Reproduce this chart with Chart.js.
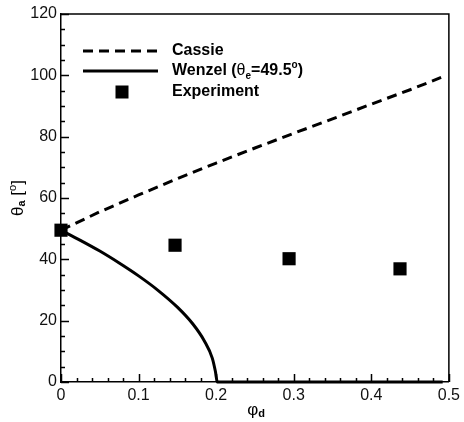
<!DOCTYPE html>
<html>
<head>
<meta charset="utf-8">
<script src="https://cdn.jsdelivr.net/npm/chart.js@4"></script>
<style>
  html, body { margin: 0; padding: 0; background: #fff; }
  #wrap { width: 464px; height: 422px; }
</style>
</head>
<body>
<div id="wrap"><canvas id="contactChart" width="464" height="422"></canvas></div>
<script>
// values
const cassiePhi = [0, 0.05, 0.1, 0.15, 0.2, 0.25, 0.3, 0.35, 0.4, 0.45, 0.49];
const cassieTheta = [49.5, 55.5, 61.0, 66.3, 71.4, 76.3, 81.1, 85.8, 90.6, 95.3, 99.3];

const wenzelPhi = [0, 0.025, 0.05, 0.075, 0.1, 0.125, 0.15, 0.17, 0.185, 0.195, 0.199, 0.2015, 0.3, 0.4, 0.492];
const wenzelTheta = [49.5, 46.2, 42.7, 38.8, 34.6, 29.9, 24.4, 18.9, 13.3, 7.8, 3.5, 0, 0, 0, 0];

const expPhi = [0, 0.147, 0.294, 0.437];
const expTheta = [49.5, 44.6, 40.2, 36.9];

const xTicks = [0, 0.1, 0.2, 0.3, 0.4, 0.5];
const yTicks = [0, 20, 40, 60, 80, 100, 120];

function pts(xs, ys) {
    return xs.map((x, i) => ({ x: x, y: ys[i] }));
}

const FONT = "'Liberation Sans', Arial, sans-serif";

// draws a run of text pieces (normal / sub / sup) centred on 0,0
function drawRich(ctx, parts) {
    let total = 0;
    parts.forEach(p => { ctx.font = p.font; p.w = ctx.measureText(p.t).width; total += p.w; });
    let x = -total / 2;
    parts.forEach(p => {
        ctx.font = p.font;
        ctx.fillText(p.t, x, p.dy || 0);
        x += p.w;
    });
}

const decorations = {
    id: "decorations",
    afterDraw(chart) {
        const ctx = chart.ctx;
        const area = chart.chartArea;
        const xs = chart.scales.x, ys = chart.scales.y;
        ctx.save();
        ctx.strokeStyle = "#000";
        ctx.fillStyle = "#000";
        ctx.lineWidth = 1.5;

        // top and right frame
        ctx.beginPath();
        ctx.moveTo(area.left, area.top);
        ctx.lineTo(area.right, area.top);
        ctx.lineTo(area.right, area.bottom);
        ctx.stroke();

        // inward ticks
        ctx.beginPath();
        for (let v = 0; v <= 0.5001; v += 0.02) {
            const px = Math.round(xs.getPixelForValue(v)) + 0.5;
            const major = Math.abs(v * 10 - Math.round(v * 10)) < 1e-6;
            ctx.moveTo(px, area.bottom);
            ctx.lineTo(px, area.bottom - (major ? 8 : 4));
        }
        for (let v = 0; v <= 120; v += 5) {
            const py = Math.round(ys.getPixelForValue(v)) + 0.5;
            ctx.moveTo(area.left, py);
            ctx.lineTo(area.left + (v % 20 === 0 ? 8 : 4), py);
        }
        ctx.stroke();

        // legend
        ctx.lineWidth = 3;
        ctx.setLineDash([10, 6]);
        ctx.beginPath();
        ctx.moveTo(83, 51); ctx.lineTo(158, 51);
        ctx.stroke();
        ctx.setLineDash([]);
        ctx.beginPath();
        ctx.moveTo(83, 71); ctx.lineTo(158, 71);
        ctx.stroke();
        ctx.fillRect(115.5, 85.5, 13, 13);

        ctx.textBaseline = "middle";
        ctx.textAlign = "left";
        const bold = "bold 16px " + FONT;
        ctx.font = bold;
        ctx.fillText("Cassie", 172, 51);
        ctx.fillText("Experiment", 172, 92);
        ctx.save();
        ctx.translate(172, 71);
        const wParts = [
            { t: "Wenzel (", font: bold },
            { t: "θ", font: "16px " + FONT },
            { t: "e", font: "bold 10px " + FONT, dy: 5 },
            { t: "=49.5", font: bold },
            { t: "o", font: "bold 10px " + FONT, dy: -6 },
            { t: ")", font: bold }
        ];
        let w = 0;
        wParts.forEach(p => { ctx.font = p.font; w += ctx.measureText(p.t).width; });
        ctx.translate(w / 2, 0);
        drawRich(ctx, wParts);
        ctx.restore();

        // x axis title
        ctx.save();
        ctx.translate(256, 410);
        drawRich(ctx, [
            { t: "φ", font: "17px " + FONT },
            { t: "d", font: "bold 11px " + FONT, dy: 4 }
        ]);
        ctx.restore();

        // y axis title
        ctx.save();
        ctx.translate(18, 198);
        ctx.rotate(-Math.PI / 2);
        drawRich(ctx, [
            { t: "θ", font: "17px " + FONT },
            { t: "a", font: "bold 11px " + FONT, dy: 4 },
            { t: " [", font: "17px " + FONT },
            { t: "o", font: "11px " + FONT, dy: -5 },
            { t: "]", font: "17px " + FONT }
        ]);
        ctx.restore();

        ctx.restore();
    }
};

new Chart(document.getElementById("contactChart"), {
    type: "scatter",
    data: {
        datasets: [{
            label: "Cassie",
            data: pts(cassiePhi, cassieTheta),
            showLine: true,
            borderColor: "#000",
            borderWidth: 3,
            borderDash: [10, 6],
            pointRadius: 0,
            tension: 0
        }, {
            label: "Wenzel",
            data: pts(wenzelPhi, wenzelTheta),
            showLine: true,
            borderColor: "#000",
            borderWidth: 3,
            pointRadius: 0,
            cubicInterpolationMode: "monotone",
            clip: 4
        }, {
            label: "Experiment",
            data: pts(expPhi, expTheta),
            showLine: false,
            pointStyle: "rect",
            pointRadius: 9.3,
            backgroundColor: "#000",
            borderWidth: 0,
            clip: false
        }]
    },
    options: {
        responsive: false,
        animation: false,
        layout: { padding: { top: 14, right: 13, left: 0, bottom: 0 } },
        plugins: { legend: { display: false }, tooltip: { enabled: false } },
        scales: {
            x: {
                type: "linear",
                min: 0,
                max: 0.5,
                afterBuildTicks: s => { s.ticks = xTicks.map(v => ({ value: v })); },
                afterFit: s => { s.height = 40; },
                ticks: {
                    font: { family: FONT, size: 16 },
                    color: "#111",
                    padding: 4,
                    maxRotation: 0,
                    callback: v => String(+v.toFixed(1))
                },
                grid: { display: false, drawTicks: false },
                border: { display: true, color: "#000", width: 1.5 }
            },
            y: {
                min: 0,
                max: 120,
                afterBuildTicks: s => { s.ticks = yTicks.map(v => ({ value: v })); },
                afterFit: s => { s.width = 61; },
                ticks: {
                    font: { family: FONT, size: 16 },
                    color: "#111",
                    padding: 4
                },
                grid: { display: false, drawTicks: false },
                border: { display: true, color: "#000", width: 1.5 }
            }
        }
    },
    plugins: [decorations]
});
</script>
</body>
</html>
